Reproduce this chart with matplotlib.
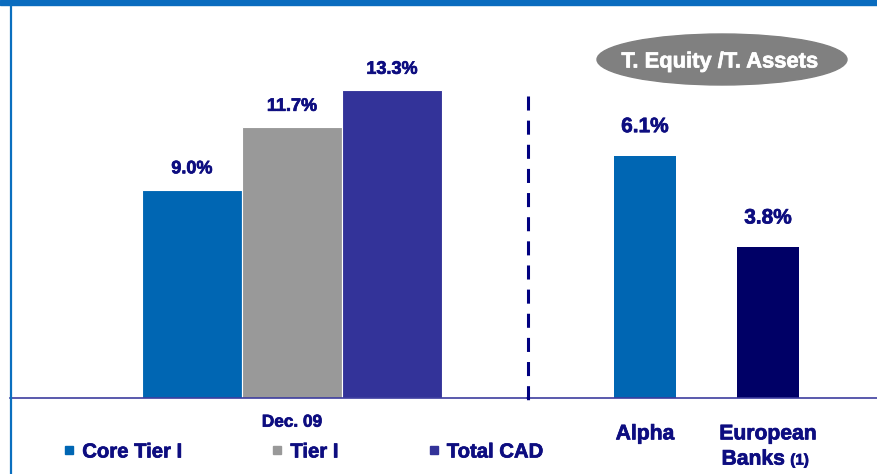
import matplotlib.pyplot as plt
import matplotlib.patheffects as pe
from matplotlib.patches import Ellipse, Rectangle
from matplotlib.lines import Line2D

plt.rcParams['font.family'] = ['Liberation Sans', 'DejaVu Sans']
plt.rcParams['font.weight'] = 'bold'

# capital ratios, Dec. 09
ratio_names = ['Core Tier I', 'Tier I', 'Total CAD']
ratio_values = [9.0, 11.7, 13.3]
ratio_colors = ['#0066b3', '#999999', '#333399']
period_label = 'Dec. 09'

# total equity / total assets
peer_names = ['Alpha', 'European']
peer_values = [6.1, 3.8]
peer_colors = ['#0066b3', '#000066']
panel_title = 'T. Equity /T. Assets'

navy = '#0d0d80'
W, H = 877, 474
thick = [pe.withStroke(linewidth=0.5, foreground=navy)]

fig = plt.figure(figsize=(W / 100, H / 100), dpi=100)

# left panel: 23.15 px per %
ax1 = fig.add_axes([10 / W, 76 / H, 517 / W, 383 / H])
x1 = list(range(len(ratio_values)))
bars1 = ax1.bar(x1, ratio_values, width=1.0, color=ratio_colors,
                edgecolor='white', linewidth=0.8)
ax1.set_xlim(-1.82, 3.35)
ax1.set_ylim(0, 383 / 23.15)
for b, v in zip(bars1, ratio_values):
    ax1.annotate(f'{v:.1f}%', (b.get_x() + b.get_width() / 2, v),
                 xytext=(0, 15), textcoords='offset points',
                 ha='center', va='center', fontsize=13, color=navy,
                 fontweight='bold', path_effects=thick)
ax1.set_xticks([1])
ax1.set_xticklabels([period_label], fontsize=12.4, color=navy,
                    fontweight='bold', path_effects=thick)
ax1.tick_params(axis='x', length=0, pad=12)
ax1.set_yticks([])

# right panel: 39.7 px per %
ax2 = fig.add_axes([527 / W, 76 / H, 350 / W, 383 / H])
x2 = list(range(len(peer_values)))
bars2 = ax2.bar(x2, peer_values, width=0.5, color=peer_colors)
ax2.set_xlim(-0.959, 1.886)
ax2.set_ylim(0, 383 / 39.7)
for b, v in zip(bars2, peer_values):
    ax2.annotate(f'{v:.1f}%', (b.get_x() + b.get_width() / 2, v),
                 xytext=(0, 21), textcoords='offset points',
                 ha='center', va='center', fontsize=15, color=navy,
                 fontweight='bold', path_effects=thick)
ax2.set_xticks(x2)
ax2.set_xticklabels(peer_names, fontsize=15.2, color=navy,
                    fontweight='bold', path_effects=thick)
ax2.tick_params(axis='x', length=0, pad=19)
ax2.set_yticks([])
ax2.annotate('Banks', (1, 0), xycoords=('data', 'axes fraction'),
             xytext=(12, -44), textcoords='offset points',
             ha='right', va='center', fontsize=15.2, color=navy,
             fontweight='bold', path_effects=thick)
ax2.annotate('(1)', (1, 0), xycoords=('data', 'axes fraction'),
             xytext=(16, -45), textcoords='offset points',
             ha='left', va='center', fontsize=11, color=navy,
             fontweight='bold', path_effects=thick)

for ax in (ax1, ax2):
    for s in ['top', 'left', 'right']:
        ax.spines[s].set_visible(False)
    ax.spines['bottom'].set_color('#3d3d9e')
    ax.spines['bottom'].set_linewidth(1.2)
    ax.patch.set_alpha(0)

# legend
handles = [Line2D([], [], marker='s', linestyle='none', markersize=6,
                  markerfacecolor=c, markeredgecolor=c) for c in ratio_colors]
leg = fig.legend(handles, ratio_names, ncol=3, loc='center left',
                 bbox_to_anchor=(63 / W, 1 - 452 / H), frameon=False,
                 labelcolor=navy, handlelength=0.6,
                 handletextpad=0.35, columnspacing=4.4, borderpad=0,
                 borderaxespad=0, prop={'weight': 'bold', 'size': 14.6})
for t in leg.get_texts():
    t.set_path_effects(thick)

# decorations in pixel space
deco = fig.add_axes([0, 0, 1, 1], zorder=5)
deco.set_xlim(0, W)
deco.set_ylim(H, 0)
deco.axis('off')
deco.add_patch(Rectangle((0, 0), W, 5, color='#0a6cbf'))
deco.plot([10.5, 10.5], [5, H], color='#0b6fbf', lw=1.6)
deco.plot([528, 528], [96, 406], color='#000080', lw=2.2,
          linestyle=(0, (4.6, 3.3)))
deco.add_patch(Ellipse((722, 59.5), 250, 51, color='#808080'))
deco.text(720, 62, panel_title, color='white', fontsize=15.8,
          fontweight='bold', ha='center', va='center',
          path_effects=[pe.withStroke(linewidth=0.5, foreground='white')])

fig.savefig('out.png', dpi=100)
